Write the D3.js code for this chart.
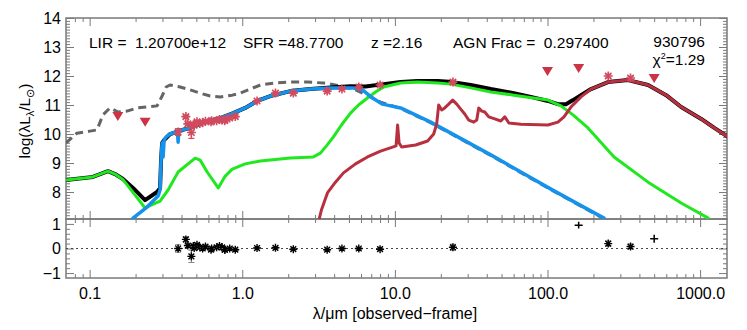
<!DOCTYPE html>
<html><head><meta charset="utf-8">
<script src="https://cdn.jsdelivr.net/npm/d3@7"></script>
<style>
body{margin:0;background:#fff}
svg{display:block}
text{font-family:"Liberation Sans",Arial,Helvetica,sans-serif;fill:#000}
</style>
</head><body>
<svg id="c" width="747" height="330"></svg>
<script>
// ---------------- DATA ----------------
// unattenuated stellar (grey dashed)
const grayLam = [0.0699,0.0825,0.1005,0.1117,0.1223,0.136,0.1534,0.1757,0.2045,0.2377,0.2766,0.2984,0.317,0.3367,0.3917,0.4557,0.5299,0.6165,0.717,0.8597,0.97,1.128,1.313,1.647,2.066,2.673,3.402,4.401,5.521,6.925,8.055,10.9,17.16,28.26,42.5,66.88,105.3,165.7,234.5];
const grayL   = [9.69,10.03,10.10,10.14,10.66,10.90,10.76,10.79,10.90,10.93,10.97,11.31,11.62,11.69,11.62,11.52,11.41,11.31,11.28,11.34,11.41,11.55,11.69,11.76,11.79,11.79,11.76,11.66,11.52,11.28,11.10,10.88,10.39,9.77,9.26,8.67,8.08,7.51,7.08];
// attenuated stellar (blue)
const blueLam = [0.185,0.1924,0.2377,0.2808,0.2894,0.2938,0.2984,0.3030,0.3075,0.317,0.3367,0.3684,0.376,0.380,0.384,0.3917,0.4557,0.5299,0.6165,0.717,0.873,1.046,1.254,1.527,2.066,2.796,3.783,5.277,6.137,7.137,8.30,10.9,17.16,28.26,42.5,66.88,105.3,165.7,234.5];
const blueL   = [6.85,7.10,7.48,7.86,8.07,9.10,9.69,9.21,9.79,9.90,10.0,10.07,10.08,9.72,10.08,10.12,10.21,10.34,10.45,10.55,10.72,10.90,11.14,11.31,11.48,11.55,11.59,11.59,11.52,11.24,11.03,10.90,10.41,9.79,9.28,8.69,8.10,7.53,7.10];
// AGN (green)
const greenLam = [0.0699,0.1051,0.1319,0.1466,0.1654,0.1895,0.2307,0.2894,0.3266,0.380,0.4913,0.5299,0.589,0.6958,0.7735,0.860,1.046,1.313,2.066,2.925,3.252,3.561,3.959,4.467,5.119,5.777,6.616,7.468,8.432,10.9,14.09,19.07,23.22,31.4,42.5,60.17,100.6,122.4,146.9,184.2,272.9,456.0,751,1130];
const greenL   = [8.41,8.52,8.72,8.62,8.43,8.03,7.45,7.69,8.07,8.69,9.17,9.10,8.69,8.14,8.55,8.79,8.97,9.07,9.17,9.21,9.34,9.59,9.90,10.31,10.72,11.0,11.24,11.45,11.62,11.76,11.79,11.76,11.72,11.59,11.45,11.34,11.17,10.97,10.66,10.21,9.21,8.34,7.62,7.10];
// dust (dark red)
const redLam = [3.17,3.203,3.301,3.615,4.079,4.605,5.521,6.616,8.055,9.658,10.18,10.42,10.66,11.07,13.68,16.39,17.95,18.78,19.37,20.26,21.21,22.52,23.93,25.42,27.0,28.69,30.48,32.86,34.39,35.44,37.1,38.82,41.23,45.14,49.43,52.52,55.8,66.88,100.6,117.0,128.2,142.4,165.7,192.7,249.2,337.3,456.0,598.8,751,1017,1238,1529];
const redL   = [6.6,7.10,7.38,7.97,8.34,8.66,8.97,9.21,9.41,9.55,9.59,10.31,9.69,9.55,9.62,9.76,10.0,10.34,11.0,10.83,10.90,11.03,11.17,11.03,10.86,10.69,10.48,10.41,10.48,10.90,10.79,10.76,10.59,10.52,10.45,10.59,10.38,10.34,10.31,10.41,10.59,10.93,11.28,11.55,11.79,11.86,11.69,11.34,10.93,10.52,10.21,9.90];
// total (black)
const totLam = [0.0699,0.1051,0.1319,0.1466,0.1654,0.1924,0.2307,0.2766,0.2894,0.2938,0.2984,0.3075,0.3367,0.3917,0.4557,0.5299,0.6165,0.717,0.873,1.046,1.254,1.527,2.066,2.796,3.783,5.119,6.42,8.432,10.9,14.09,19.07,23.93,31.4,42.5,60.17,77.8,100.6,117.0,132.1,146.9,165.7,192.7,249.2,337.3,456.0,598.8,751,1017,1238,1529];
const totL   = [8.41,8.52,8.72,8.62,8.45,8.14,7.72,8.0,8.14,9.10,9.69,9.79,10.0,10.12,10.21,10.34,10.45,10.55,10.72,10.90,11.14,11.31,11.48,11.55,11.60,11.65,11.64,11.72,11.79,11.83,11.83,11.79,11.69,11.55,11.41,11.28,11.14,11.03,11.03,11.17,11.34,11.55,11.79,11.86,11.69,11.34,10.93,10.52,10.21,9.90];
// photometry (detections)
const photLam = [0.38,0.427,0.44,0.464,0.478,0.484,0.505,0.527,0.55,0.574,0.624,0.63,0.679,0.709,0.738,0.767,0.77,0.827,0.9,1.25,1.65,2.16,3.6,4.5,5.8,8.0,24,250,350];
const photVal = [10.07,10.60,10.35,10.05,10.32,10.30,10.42,10.36,10.40,10.44,10.42,10.46,10.46,10.50,10.48,10.46,10.50,10.55,10.60,11.14,11.41,11.41,11.48,11.55,11.62,11.69,11.79,12.00,11.93];
const photErr = [0.12,0.05,0.05,0.2,0.05,0.05,0.05,0.05,0.04,0.05,0.04,0.04,0.05,0.05,0.05,0.05,0.04,0.05,0.05,0.03,0.03,0.03,0.03,0.03,0.03,0.03,0.06,0.06,0.06];
// upper limits
const limLam = [0.153,0.231,100,160,500];
const limVal = [10.62,10.42,12.17,12.28,11.93];
// residuals
const resLam = photLam;
const resVal = [0.0,0.37,0.12,-0.32,0.1,0.02,0.15,0.05,0.0,0.08,-0.05,0.0,0.05,0.1,0.05,-0.05,-0.05,0.0,-0.05,0.02,0.03,-0.03,-0.05,0.0,0.0,-0.03,0.05,0.2,0.08];
const resErr = [0.15,0.1,0.08,0.25,0.08,0.06,0.06,0.06,0.05,0.06,0.05,0.05,0.05,0.05,0.05,0.05,0.05,0.05,0.05,0.04,0.04,0.04,0.04,0.04,0.04,0.04,0.12,0.1,0.1];
const resLimLam = [160,500];
const resLimVal = [0.95,0.40];
const resLimErr = [0.06,0.08];
// ticks / labels
const xMajor = [0.1,1,10,100,1000];
const xLabels = ["0.1","1.0","10.0","100.0","1000.0"];
const yMajor = [8,9,10,11,12,13,14];
const rMajor = [-1,0,1];
const infoTexts = ["LIR\u00A0=\u00A0\u00A01.20700e+12", "SFR\u00A0=48.7700", "z\u00A0=2.16", "AGN\u00A0Frac\u00A0=\u00A0\u00A00.297400"];
const objId = "930796";
const chi2 = "1.29";

// ---------------- SCALES ----------------
const X0=66, X1=727, Y0=18, Y1=219, Y2=278;
const x = d3.scaleLog().domain([0.07,1500]).range([X0,X1]);
const y = d3.scaleLinear().domain([7.07,14]).range([Y1,Y0]);
const yr = d3.scaleLinear().domain([-1.2,1.2]).range([Y2,Y1]);

const svg = d3.select("#c");
const AX = "#7a7a7a";

svg.append("defs").append("clipPath").attr("id","clipTop")
  .append("rect").attr("x",X0).attr("y",Y0).attr("width",X1-X0).attr("height",Y1-Y0);

// minor ticks
const xMinor = [];
[0.01,0.1,1,10,100,1000].forEach(d=>{for(let k=2;k<=9;k++){const v=d*k; if(v>0.07&&v<1500) xMinor.push(v);}});
const yMinor = d3.range(71,141).map(v=>v/10).filter(v=>!Number.isInteger(v));
const rMinor = d3.range(-6,7).map(v=>v/5).filter(v=>Math.abs(v)<1.2 && !Number.isInteger(v));

function styleAxis(g){ g.select(".domain").remove(); g.selectAll("line").attr("stroke",AX).attr("stroke-width",1); g.selectAll("text").attr("font-size",16).attr("fill","#000").style("font-family","'Liberation Sans',Arial,sans-serif"); }

function xTicks(yPos, dir, labels){
  const gen = d3.axisBottom(x).tickValues(xMajor).tickSize(8*dir).tickPadding(10);
  gen.tickFormat(labels ? (d,i)=>xLabels[i] : "");
  const g = svg.append("g").attr("transform",`translate(0,${yPos})`).call(gen).call(styleAxis);
  svg.append("g").attr("transform",`translate(0,${yPos})`).call(d3.axisBottom(x).tickValues(xMinor).tickSize(4*dir).tickFormat("")).call(styleAxis);
  return g;
}
xTicks(Y0, 1, false);
xTicks(Y1, -1, false);
xTicks(Y1, 1, false);
const xb = xTicks(Y2, -1, true);
xb.selectAll("text").attr("y",10).attr("dy","0.71em");

function yTicks(scale, maj, minr){
  const l = svg.append("g").attr("transform",`translate(${X0},0)`)
    .call(d3.axisLeft(scale).tickValues(maj).tickSize(-8).tickPadding(5).tickFormat(d3.format("d"))).call(styleAxis);
  svg.append("g").attr("transform",`translate(${X0},0)`).call(d3.axisLeft(scale).tickValues(minr).tickSize(-4).tickFormat("")).call(styleAxis);
  svg.append("g").attr("transform",`translate(${X1},0)`).call(d3.axisRight(scale).tickValues(maj).tickSize(-8).tickFormat("")).call(styleAxis);
  svg.append("g").attr("transform",`translate(${X1},0)`).call(d3.axisRight(scale).tickValues(minr).tickSize(-4).tickFormat("")).call(styleAxis);
  l.selectAll("text").attr("x",-5);
}
yTicks(y, yMajor, yMinor);
yTicks(yr, rMajor, rMinor);

// frames
svg.append("rect").attr("x",X0).attr("y",Y0).attr("width",X1-X0).attr("height",Y1-Y0).attr("fill","none").attr("stroke",AX).attr("stroke-width",1.5);
svg.append("rect").attr("x",X0).attr("y",Y1).attr("width",X1-X0).attr("height",Y2-Y1).attr("fill","none").attr("stroke",AX).attr("stroke-width",1.5);

// ---------------- CURVES ----------------
const line = d3.line().x(d=>x(d[0])).y(d=>y(d[1]));
const topG = svg.append("g").attr("clip-path","url(#clipTop)");
function curve(lam, val, color, w, dash){
  const p = topG.append("path").datum(lam.map((l,i)=>[l,val[i]]))
    .attr("d",line).attr("fill","none").attr("stroke",color).attr("stroke-width",w)
    .attr("stroke-linejoin","round").attr("stroke-linecap", dash? "butt":"round");
  if(dash) p.attr("stroke-dasharray",dash);
}
curve(grayLam, grayL, "#656565", 3, "8,5");
curve(totLam, totL, "#000", 4);
curve(greenLam, greenL, "#1fe81f", 3);
curve(blueLam, blueL, "#1592ec", 3.5);
curve(redLam, redL, "#b83040", 3);

// ---------------- POINTS ----------------
function astPath(cx,cy,r){
  const a=r*0.72;
  return `M${cx-r},${cy}L${cx+r},${cy}M${cx},${cy-r}L${cx},${cy+r}M${cx-a},${cy-a}L${cx+a},${cy+a}M${cx-a},${cy+a}L${cx+a},${cy-a}`;
}
const PC = "#d24a5e";
const pts = topG.append("g");
photLam.forEach((l,i)=>{
  const cx=x(l), cy=y(photVal[i]), e1=y(photVal[i]+photErr[i]), e2=y(photVal[i]-photErr[i]);
  pts.append("path").attr("d",`M${cx},${e1}L${cx},${e2}M${cx-3},${e1}L${cx+3},${e1}M${cx-3},${e2}L${cx+3},${e2}`).attr("stroke",PC).attr("stroke-width",1.2).attr("fill","none");
  pts.append("path").attr("d",astPath(cx,cy,4.5)).attr("stroke",PC).attr("stroke-width",1.6).attr("fill","none");
});
limLam.forEach((l,i)=>{
  const cx=x(l), cy=y(limVal[i]);
  pts.append("path").attr("d",`M${cx-5.5},${cy-4}L${cx+5.5},${cy-4}L${cx},${cy+5}Z`).attr("fill","#cc3344");
});

// residuals
const res = svg.append("g");
res.append("line").attr("x1",X0).attr("x2",X1).attr("y1",yr(0)).attr("y2",yr(0)).attr("stroke","#444").attr("stroke-width",1).attr("stroke-dasharray","2,3");
resLam.forEach((l,i)=>{
  const cx=x(l), cy=yr(resVal[i]), e1=yr(resVal[i]+resErr[i]), e2=yr(resVal[i]-resErr[i]);
  res.append("path").attr("d",`M${cx},${e1}L${cx},${e2}M${cx-3},${e1}L${cx+3},${e1}M${cx-3},${e2}L${cx+3},${e2}`).attr("stroke","#888").attr("stroke-width",1.2).attr("fill","none");
  res.append("path").attr("d",astPath(cx,cy,4)).attr("stroke","#000").attr("stroke-width",1.4).attr("fill","none");
});
resLimLam.forEach((l,i)=>{
  const cx=x(l), cy=yr(resLimVal[i]), e1=yr(resLimVal[i]+resLimErr[i]), e2=yr(resLimVal[i]-resLimErr[i]);
  res.append("path").attr("d",`M${cx},${e1-2}L${cx},${e2+2}M${cx-4},${cy}L${cx+4},${cy}`).attr("stroke","#000").attr("stroke-width",1.5).attr("fill","none");
});

// ---------------- TEXT ----------------
const infoX = [89,243,371,453];
infoTexts.forEach((t,i)=>{
  svg.append("text").attr("x",infoX[i]).attr("y",48).attr("font-size",15.5).text(t);
});
svg.append("text").attr("x",705).attr("y",47).attr("font-size",15.5).attr("text-anchor","end").text(objId);
const c2 = svg.append("text").attr("x",705).attr("y",65).attr("font-size",15.5).attr("text-anchor","end");
c2.append("tspan").text("χ");
c2.append("tspan").attr("dy",-6).attr("font-size",9).text("2");
c2.append("tspan").attr("dy",6).text("=" + chi2);

const yl = svg.append("text").attr("transform","translate(30,121) rotate(-90)").attr("text-anchor","middle").attr("font-size",15.5);
yl.append("tspan").text("log(λL");
yl.append("tspan").attr("dy",4).attr("font-size",11).text("λ");
yl.append("tspan").attr("dy",-4).text("/L");
yl.append("tspan").attr("dy",4).attr("font-size",11).text("⊙");
yl.append("tspan").attr("dy",-4).text(")");

svg.append("text").attr("x",395).attr("y",319).attr("text-anchor","middle").attr("font-size",16).text("λ/μm [observed−frame]");
</script>
</body></html>
